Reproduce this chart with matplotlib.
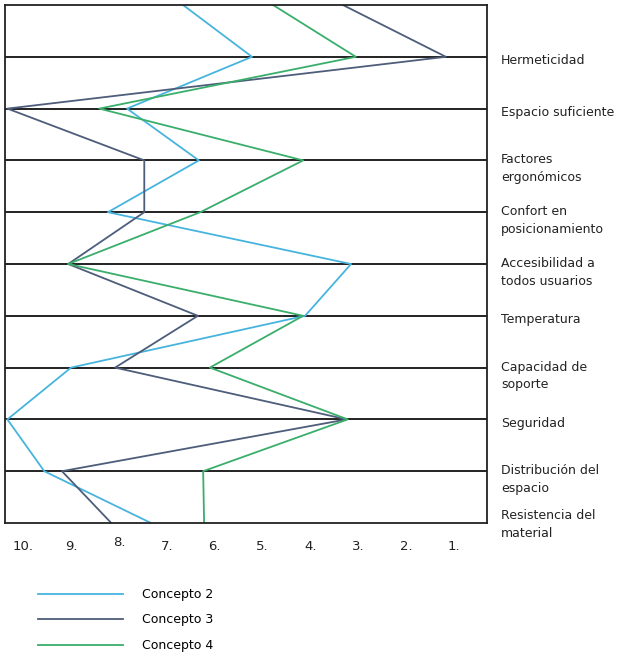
import matplotlib
matplotlib.use('Agg')
import matplotlib.pyplot as plt
import matplotlib.transforms as mtransforms

plt.rcParams['font.family'] = 'DejaVu Sans'

# criteria from top to bottom (each one sits on a horizontal line)
criterios = ['Hermeticidad', 'Espacio suficiente', 'Factores\nergonómicos',
             'Confort en\nposicionamiento', 'Accesibilidad a\ntodos usuarios',
             'Temperatura', 'Capacidad de\nsoporte', 'Seguridad',
             'Distribución del\nespacio', 'Resistencia del\nmaterial']

# scores: first value is where each line enters at the top
concepto2 = [6.66, 5.22, 7.83, 6.33, 8.23, 3.15, 4.11, 9.00, 10.33, 9.56, 7.33]
concepto3 = [3.32, 1.17, 10.33, 7.47, 7.47, 9.06, 6.35, 8.08, 3.24, 9.19, 8.16]
concepto4 = [4.78, 3.05, 8.41, 4.15, 6.30, 9.06, 4.15, 6.10, 3.22, 6.24, 6.22]

escala = [10, 9, 8, 7, 6, 5, 4, 3, 2, 1]
escala_labels = [str(v) + '.' for v in escala]

series = [('Concepto 2', concepto2, '#47b4de'),
          ('Concepto 3', concepto3, '#4d5d7a'),
          ('Concepto 4', concepto4, '#3aae6b')]

fig = plt.figure(figsize=(6.28, 6.56), dpi=100)
ax = fig.add_axes([5/628, 1 - 523/656, 482/628, 518/656])

niveles = list(range(len(criterios) + 1))
for nombre, valores, color in series:
    ax.plot(valores, niveles, color=color, lw=1.3, label=nombre)

for y in niveles[1:-1]:
    ax.axhline(y, color='#222222', lw=1.4, zorder=0)

ax.set_xlim(10.38, 0.31)
ax.set_ylim(len(criterios), 0)
for s in ax.spines.values():
    s.set_color('#222222')
    s.set_linewidth(1.3)

ax.set_yticks([])
ax.set_xticks(escala)
ax.set_xticklabels(escala_labels, fontsize=9.5, color='#222222')
ax.tick_params(axis='x', length=0, pad=12)
# the "8." sits a little higher in the original
lbl8 = ax.get_xticklabels()[2]
lbl8.set_transform(lbl8.get_transform() +
                   mtransforms.ScaledTranslation(0, 4/100, fig.dpi_scale_trans))

# labels on the right of each line
trans = mtransforms.blended_transform_factory(fig.transFigure, ax.transData)
for i, txt in enumerate(criterios):
    dy = 5 if '\n' in txt else 2
    if i == len(criterios) - 1:
        dy = 10
    ax.annotate(txt, xy=(501/628, i + 1), xycoords=trans,
                xytext=(0, dy), textcoords='offset points',
                va='top', ha='left', fontsize=9, color='#222222',
                linespacing=1.45, annotation_clip=False)

ax.legend(loc='upper left', bbox_to_anchor=(38/628, 1 - 588/656),
          bbox_transform=fig.transFigure, frameon=False, fontsize=9,
          handlelength=6.8, handletextpad=1.5, labelspacing=1.0,
          borderpad=0, borderaxespad=0)

fig.savefig('out.png', dpi=100)
